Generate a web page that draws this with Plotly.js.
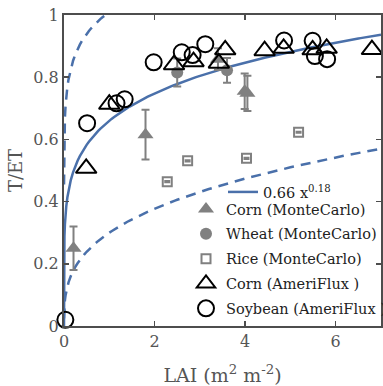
<!DOCTYPE html>
<html><head><meta charset="utf-8">
<script src="https://cdn.plot.ly/plotly-3.0.1.min.js"></script>
<style>html,body{margin:0;padding:0;overflow:hidden;background:#fff}#plot{width:391px;height:386px}</style>
</head><body><div id="plot"></div>
<script>
// Fit and bounds (power laws y = a * x^b)
const fitA = 0.66, fitB = 0.18;
const upperA = 1.01, upperB = 0.105;
const lowerA = 0.30, lowerB = 0.33;

// Corn (MonteCarlo)
const cornMcX = [0.21, 1.80, 3.40, 3.99, 4.05];
const cornMcY = [0.25, 0.615, 0.858, 0.755, 0.748];
const cornMcErr = [0.07, 0.08, 0.035, 0.057, 0.057];
// Wheat (MonteCarlo)
const wheatMcX = [2.50, 3.60];
const wheatMcY = [0.815, 0.822];
const wheatMcErr = [0.045, 0.04];
// Rice (MonteCarlo)
const riceMcX = [2.28, 2.73, 4.03, 5.18];
const riceMcY = [0.464, 0.531, 0.539, 0.623];
const riceMcErr = [0.002, 0.002, 0.002, 0.002];
// Corn (AmeriFlux)
const cornAfX = [0.49, 1.00, 2.43, 2.86, 3.42, 3.56, 4.43, 4.85, 5.49, 5.80, 6.80];
const cornAfY = [0.507, 0.713, 0.84, 0.85, 0.845, 0.888, 0.885, 0.893, 0.888, 0.893, 0.889];
// Soybean (AmeriFlux)
const soyAfX = [0.03, 0.51, 1.16, 1.34, 1.98, 2.60, 2.84, 3.12, 4.86, 5.49, 5.54, 5.81];
const soyAfY = [0.02, 0.652, 0.716, 0.729, 0.848, 0.88, 0.871, 0.906, 0.918, 0.917, 0.868, 0.858];

const xTicks = [0, 2, 4, 6];
const yTicks = [0, 0.2, 0.4, 0.6, 0.8, 1];
const yTickText = ['0', '0.2', '0.4', '0.6', '0.8', '1'];

// sampling grid for the curves
const grid = [0, 1e-9, 1e-8, 1e-7, 1e-6, 1e-5, 1e-4, 5e-4, 0.001, 0.002, 0.005, 0.01, 0.02, 0.035, 0.05, 0.075];
for (let v = 0.1; v <= 7.0001; v += 0.05) grid.push(+v.toFixed(3));
const dashGrid = grid.filter(v => v >= 5e-4);

const blue = '#4a70aa';
const gray = '#808080';
const font = 'DejaVu Serif, Liberation Serif, serif';

const traces = [
  {x: dashGrid, y: dashGrid.map(v => upperA * Math.pow(v, upperB)), mode: 'lines', showlegend: false,
   line: {color: blue, width: 2.5, dash: '10px,7px'}, hoverinfo: 'skip'},
  {x: dashGrid, y: dashGrid.map(v => lowerA * Math.pow(v, lowerB)), mode: 'lines', showlegend: false,
   line: {color: blue, width: 2.5, dash: '10px,7px'}, hoverinfo: 'skip'},
  {x: grid, y: grid.map(v => fitA * Math.pow(v, fitB)), mode: 'lines', name: fitA + ' x<sup>' + fitB + '</sup>',
   legend: 'legend2', line: {color: blue, width: 2.5}},
  {x: cornMcX, y: cornMcY, mode: 'markers', name: 'Corn (MonteCarlo)', cliponaxis: false, legendgroup: 'g1',
   marker: {symbol: 'triangle-up', size: 14, color: gray},
   error_y: {type: 'data', array: cornMcErr, visible: true, color: gray, thickness: 2, width: 4}},
  {x: wheatMcX, y: wheatMcY, mode: 'markers', name: 'Wheat (MonteCarlo)', cliponaxis: false, legendgroup: 'g2',
   marker: {symbol: 'circle', size: 12, color: gray},
   error_y: {type: 'data', array: wheatMcErr, visible: true, color: gray, thickness: 2, width: 4}},
  {x: riceMcX, y: riceMcY, mode: 'markers', name: 'Rice (MonteCarlo)', cliponaxis: false, legendgroup: 'g3',
   marker: {symbol: 'square-open', size: 9, color: gray, line: {width: 2, color: gray}},
   error_y: {type: 'data', array: riceMcErr, visible: true, color: gray, thickness: 2, width: 3}},
  {x: cornAfX, y: cornAfY, mode: 'markers', name: 'Corn (AmeriFlux )', cliponaxis: false, legendgroup: 'g4',
   marker: {symbol: 'triangle-up-open', size: 18, color: '#000', line: {width: 2, color: '#000'}}},
  {x: soyAfX, y: soyAfY, mode: 'markers', name: 'Soybean (AmeriFlux )', cliponaxis: false, legendgroup: 'g5',
   marker: {symbol: 'circle-open', size: 16, color: '#000', line: {width: 2, color: '#000'}}}
];

const axisCommon = {
  showline: true, linecolor: '#4d4d4d', linewidth: 2, mirror: 'ticks',
  ticks: 'inside', ticklen: 5, tickwidth: 1.5, tickcolor: '#4d4d4d',
  showgrid: false, zeroline: false,
  tickfont: {family: font, size: 16, color: '#555'}
};

const layout = {
  width: 391, height: 386,
  margin: {l: 64, r: 0, t: 15, b: 60},
  paper_bgcolor: '#fff', plot_bgcolor: '#fff',
  font: {family: font, color: '#222'},
  showlegend: true,
  xaxis: Object.assign({}, axisCommon, {
    range: [0, 7], tickvals: xTicks, ticktext: xTicks.map(String),
    title: {text: 'LAI (m<sup>2</sup> m<sup>-2</sup>)', font: {family: font, size: 19, color: '#555'}, standoff: 20}
  }),
  yaxis: Object.assign({}, axisCommon, {
    range: [0, 1], tickvals: yTicks, ticktext: yTickText,
    title: {text: 'T/ET', font: {family: font, size: 18, color: '#555'}, standoff: 6}
  }),
  legend: {x: (190 - 64) / 327, xanchor: 'left', y: (326 - 193) / 311, yanchor: 'top',
    bgcolor: 'rgba(0,0,0,0)', font: {family: font, size: 14.5, color: '#222'}, tracegroupgap: 3},
  legend2: {x: (228 - 64) / 327, xanchor: 'left', y: (326 - 176) / 311, yanchor: 'top',
    bgcolor: 'rgba(0,0,0,0)', font: {family: font, size: 14.5, color: '#222'}}
};

Plotly.newPlot('plot', traces, layout, {displayModeBar: false, staticPlot: true});
</script>
</body></html>
